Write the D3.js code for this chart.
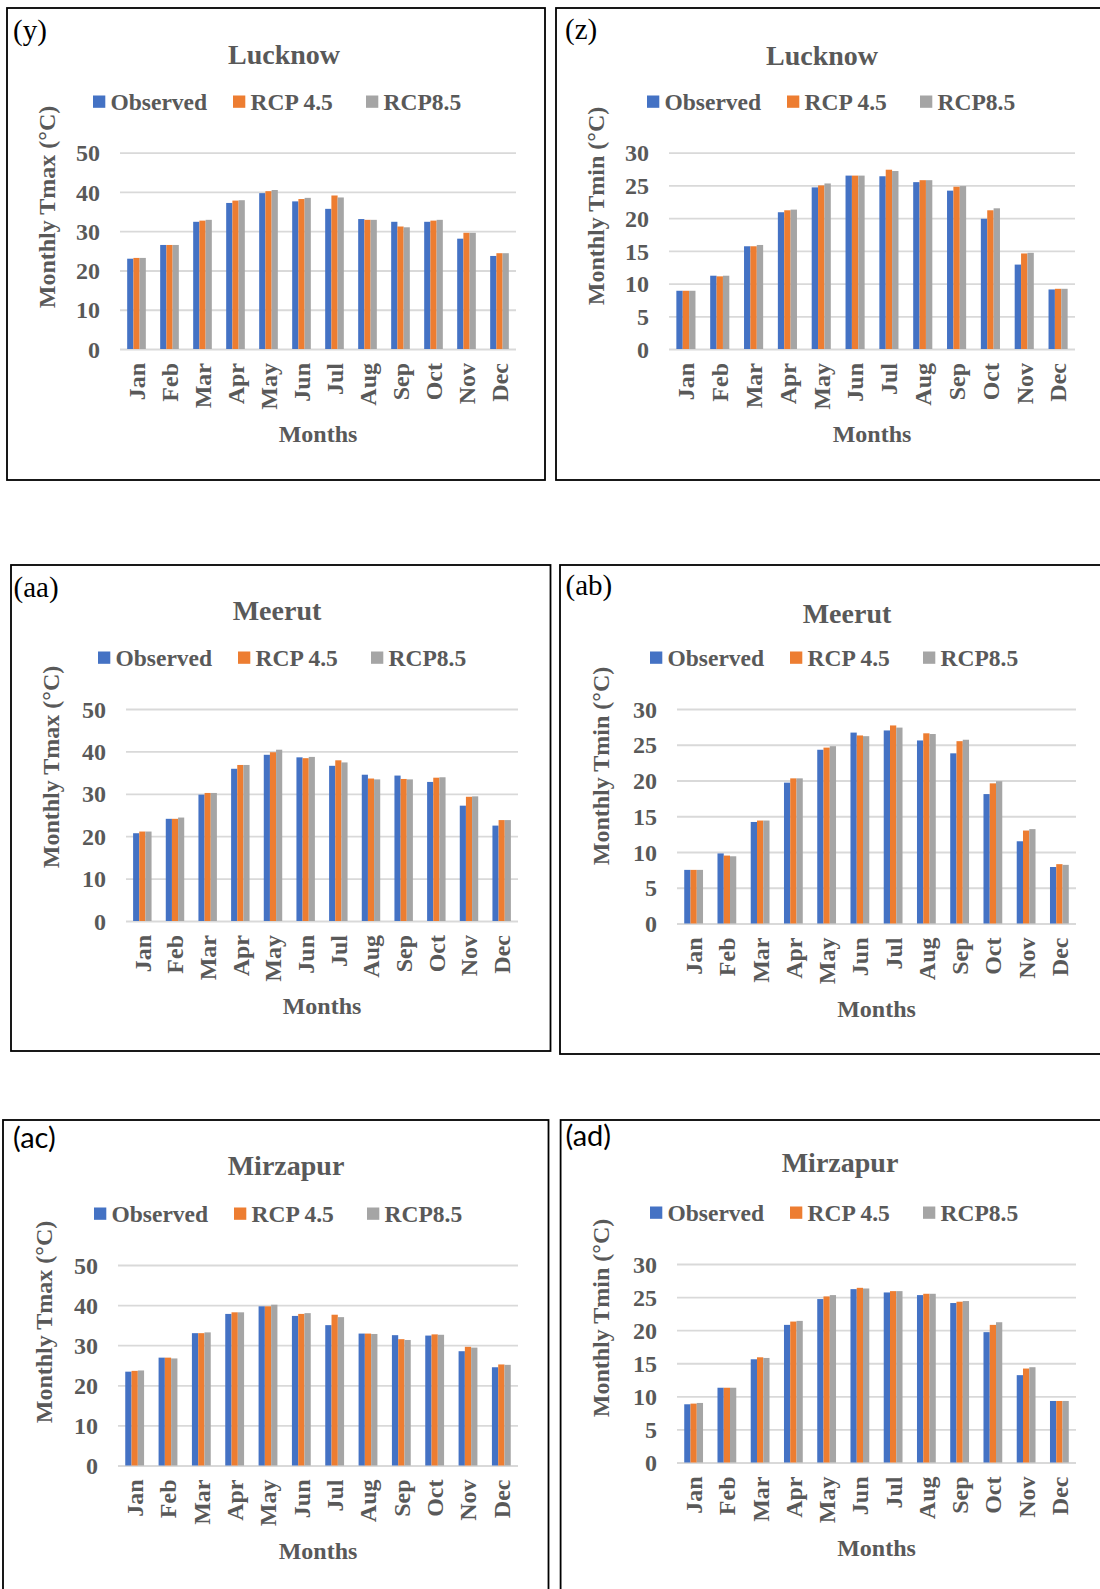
<!DOCTYPE html>
<html>
<head>
<meta charset="utf-8">
<script src="https://cdn.jsdelivr.net/npm/d3@7"></script>
<style>
  html, body { margin: 0; padding: 0; background: #fff; }
  svg { display: block; }
</style>
</head>
<body>
<svg id="fig" width="1100" height="1589"></svg>
<script>
// ---- data -------------------------------------------------------------
const months = ["Jan", "Feb", "Mar", "Apr", "May", "Jun", "Jul", "Aug", "Sep", "Oct", "Nov", "Dec"];
const seriesNames = ["Observed", "RCP 4.5", "RCP8.5"];
const tmaxTicks = [0, 10, 20, 30, 40, 50];
const tminTicks = [0, 5, 10, 15, 20, 25, 30];

// Lucknow
const lucknowTmaxObserved = [23.0, 26.5, 32.4, 37.2, 39.7, 37.6, 35.7, 33.1, 32.4, 32.4, 28.1, 23.7];
const lucknowTmaxRcp45    = [23.2, 26.5, 32.7, 37.8, 40.2, 38.2, 39.1, 32.9, 31.2, 32.7, 29.6, 24.4];
const lucknowTmaxRcp85    = [23.2, 26.5, 32.9, 37.9, 40.5, 38.5, 38.6, 32.9, 31.0, 32.9, 29.6, 24.4];
const lucknowTminObserved = [8.9, 11.2, 15.7, 20.9, 24.7, 26.5, 26.4, 25.5, 24.2, 19.9, 12.9, 9.1];
const lucknowTminRcp45    = [8.9, 11.1, 15.7, 21.2, 25.0, 26.5, 27.4, 25.8, 24.8, 21.2, 14.6, 9.2];
const lucknowTminRcp85    = [8.9, 11.2, 15.9, 21.3, 25.3, 26.5, 27.2, 25.8, 24.9, 21.5, 14.7, 9.2];

// Meerut
const meerutTmaxObserved = [20.7, 24.1, 29.8, 35.9, 39.2, 38.6, 36.6, 34.5, 34.3, 32.8, 27.2, 22.5];
const meerutTmaxRcp45    = [21.1, 24.1, 30.2, 36.8, 39.8, 38.4, 37.9, 33.6, 33.5, 33.8, 29.3, 23.8];
const meerutTmaxRcp85    = [21.1, 24.4, 30.2, 36.8, 40.4, 38.7, 37.4, 33.4, 33.4, 33.9, 29.4, 23.8];
const meerutTminObserved = [7.5, 9.8, 14.2, 19.7, 24.3, 26.7, 27.0, 25.6, 23.8, 18.1, 11.5, 7.9];
const meerutTminRcp45    = [7.5, 9.5, 14.4, 20.3, 24.6, 26.3, 27.7, 26.6, 25.5, 19.6, 13.0, 8.3];
const meerutTminRcp85    = [7.5, 9.4, 14.4, 20.3, 24.8, 26.2, 27.4, 26.5, 25.7, 19.9, 13.2, 8.2];

// Mirzapur
const mirzapurTmaxObserved = [23.4, 26.9, 33.0, 37.8, 39.7, 37.3, 35.0, 32.9, 32.5, 32.4, 28.5, 24.5];
const mirzapurTmaxRcp45    = [23.6, 26.9, 33.0, 38.2, 39.7, 37.8, 37.6, 32.9, 31.5, 32.7, 29.6, 25.2];
const mirzapurTmaxRcp85    = [23.7, 26.7, 33.2, 38.2, 40.1, 38.0, 37.0, 32.8, 31.3, 32.6, 29.4, 25.1];
const mirzapurTminObserved = [8.8, 11.3, 15.6, 20.8, 24.7, 26.2, 25.7, 25.3, 24.1, 19.7, 13.2, 9.3];
const mirzapurTminRcp45    = [8.9, 11.3, 15.9, 21.3, 25.1, 26.4, 25.9, 25.5, 24.3, 20.8, 14.2, 9.3];
const mirzapurTminRcp85    = [9.0, 11.3, 15.8, 21.4, 25.3, 26.3, 25.9, 25.5, 24.4, 21.2, 14.4, 9.3];

// ---- styling ----------------------------------------------------------
const seriesColors = ["#4472C4", "#ED7D31", "#A5A5A5"];
const textColor = "#595959";
const gridColor = "#D9D9D9";
const serif = "'Liberation Serif', 'Times New Roman', serif";
const sans = "Lato, 'Liberation Sans', sans-serif";

// ---- panel layout -----------------------------------------------------
const panels = [
  { tag: "(y)", tagFont: serif, tagX: 13, tagY: 40,
    box: [7, 8, 545, 480], city: "Lucknow", titleX: 284, titleY: 64,
    legendX: 93, legendY: 110, plot: [120, 152.7, 516, 349],
    yTitle: "Monthly Tmax (°C)", yTitleX: 46.5, yTitleY: 207,
    ticks: tmaxTicks, series: [lucknowTmaxObserved, lucknowTmaxRcp45, lucknowTmaxRcp85] },
  { tag: "(z)", tagFont: serif, tagX: 565, tagY: 39,
    box: [556, 8, 1104, 480], city: "Lucknow", titleX: 822, titleY: 65,
    legendX: 647, legendY: 110, plot: [669, 152.7, 1075, 349],
    yTitle: "Monthly Tmin (°C)", yTitleX: 596, yTitleY: 206,
    ticks: tminTicks, series: [lucknowTminObserved, lucknowTminRcp45, lucknowTminRcp85] },
  { tag: "(aa)", tagFont: serif, tagX: 13.5, tagY: 597,
    box: [11, 565, 550.5, 1051], city: "Meerut", titleX: 277, titleY: 620,
    legendX: 98, legendY: 666, plot: [126, 709, 518, 921],
    yTitle: "Monthly Tmax (°C)", yTitleX: 51, yTitleY: 767,
    ticks: tmaxTicks, series: [meerutTmaxObserved, meerutTmaxRcp45, meerutTmaxRcp85] },
  { tag: "(ab)", tagFont: serif, tagX: 565.5, tagY: 595,
    box: [560, 565, 1104, 1054], city: "Meerut", titleX: 847, titleY: 623,
    legendX: 650, legendY: 666, plot: [677, 709, 1076, 923.5],
    yTitle: "Monthly Tmin (°C)", yTitleX: 600.5, yTitleY: 766,
    ticks: tminTicks, series: [meerutTminObserved, meerutTminRcp45, meerutTminRcp85] },
  { tag: "(ac)", tagFont: sans, tagX: 13, tagY: 1148,
    box: [3, 1120, 548.5, 1604], city: "Mirzapur", titleX: 286, titleY: 1175,
    legendX: 94, legendY: 1222, plot: [118, 1265, 518, 1465.5],
    yTitle: "Monthly Tmax (°C)", yTitleX: 44, yTitleY: 1322,
    ticks: tmaxTicks, series: [mirzapurTmaxObserved, mirzapurTmaxRcp45, mirzapurTmaxRcp85] },
  { tag: "(ad)", tagFont: sans, tagX: 565.5, tagY: 1146,
    box: [560.6, 1120, 1104, 1604], city: "Mirzapur", titleX: 840, titleY: 1172,
    legendX: 650, legendY: 1221, plot: [677, 1264, 1076, 1462.5],
    yTitle: "Monthly Tmin (°C)", yTitleX: 600.5, yTitleY: 1318,
    ticks: tminTicks, series: [mirzapurTminObserved, mirzapurTminRcp45, mirzapurTminRcp85] }
];

const legendOffsets = [0, 140, 273];

const svg = d3.select("#fig");
svg.append("rect").attr("width", 1100).attr("height", 1589).attr("fill", "#fff");

panels.forEach(p => {
  const g = svg.append("g");
  const [bx0, by0, bx1, by1] = p.box;
  const [px0, py0, px1, py1] = p.plot;

  // frame
  g.append("rect")
    .attr("x", bx0).attr("y", by0)
    .attr("width", bx1 - bx0).attr("height", by1 - by0)
    .attr("fill", "none").attr("stroke", "#000").attr("stroke-width", 1.8);

  // panel tag
  g.append("text")
    .attr("x", p.tagX).attr("y", p.tagY)
    .attr("font-family", p.tagFont).attr("font-size", 29)
    .attr("fill", "#000").text(p.tag);

  // chart title
  g.append("text")
    .attr("x", p.titleX).attr("y", p.titleY)
    .attr("text-anchor", "middle")
    .attr("font-family", serif).attr("font-weight", "bold").attr("font-size", 28)
    .attr("fill", textColor).text(p.city);

  // legend
  const lg = g.append("g").attr("transform", `translate(${p.legendX},${p.legendY})`);
  seriesNames.forEach((name, i) => {
    const item = lg.append("g").attr("transform", `translate(${legendOffsets[i]},0)`);
    item.append("rect")
      .attr("x", 0).attr("y", -14.5).attr("width", 12.3).attr("height", 12.3)
      .attr("fill", seriesColors[i]);
    item.append("text")
      .attr("x", 17.5).attr("y", 0)
      .attr("font-family", serif).attr("font-weight", "bold").attr("font-size", 23.5)
      .attr("fill", textColor).text(name);
  });

  // scales
  const x0 = d3.scaleBand().domain(months).range([px0, px1])
    .paddingInner(0.435).paddingOuter(0.2175);
  const x1 = d3.scaleBand().domain(d3.range(seriesNames.length))
    .range([0, x0.bandwidth()]);
  const y = d3.scaleLinear().domain([0, d3.max(p.ticks)]).range([py1, py0]);

  // value axis with gridlines
  const yAxis = g.append("g")
    .attr("transform", `translate(${px0},0)`)
    .call(d3.axisLeft(y).tickValues(p.ticks).tickSize(-(px1 - px0)).tickPadding(20));
  yAxis.select(".domain").remove();
  yAxis.selectAll(".tick line").attr("stroke", gridColor).attr("stroke-width", 1.8);
  yAxis.selectAll(".tick text")
    .attr("font-family", serif).attr("font-weight", "bold").attr("font-size", 24)
    .attr("fill", textColor).attr("dy", "0.34em");

  // bars
  const rows = months.map((m, mi) => ({ month: m, values: p.series.map(s => s[mi]) }));
  const groups = g.append("g").selectAll("g").data(rows).join("g")
    .attr("transform", d => `translate(${x0(d.month)},0)`);
  groups.selectAll("rect")
    .data(d => d.values.map((v, si) => ({ si, v })))
    .join("rect")
    .attr("x", d => x1(d.si))
    .attr("width", x1.bandwidth())
    .attr("y", d => y(d.v))
    .attr("height", d => y(0) - y(d.v))
    .attr("fill", d => seriesColors[d.si]);

  // category axis
  const xAxis = g.append("g")
    .attr("transform", `translate(0,${py1})`)
    .call(d3.axisBottom(x0).tickSize(0));
  xAxis.select(".domain").remove();
  xAxis.selectAll(".tick text")
    .attr("transform", "rotate(-90)")
    .attr("x", -14).attr("y", 0).attr("dy", "0.35em")
    .attr("text-anchor", "end")
    .attr("font-family", serif).attr("font-weight", "bold").attr("font-size", 24)
    .attr("fill", textColor);

  // axis titles
  g.append("text")
    .attr("x", (px0 + px1) / 2).attr("y", py1 + 93)
    .attr("text-anchor", "middle")
    .attr("font-family", serif).attr("font-weight", "bold").attr("font-size", 24)
    .attr("fill", textColor).text("Months");

  g.append("text")
    .attr("transform", `translate(${p.yTitleX},${p.yTitleY}) rotate(-90)`)
    .attr("text-anchor", "middle").attr("dy", "0.35em")
    .attr("font-family", serif).attr("font-weight", "bold").attr("font-size", 24)
    .attr("fill", textColor).text(p.yTitle);
});
</script>
</body>
</html>
